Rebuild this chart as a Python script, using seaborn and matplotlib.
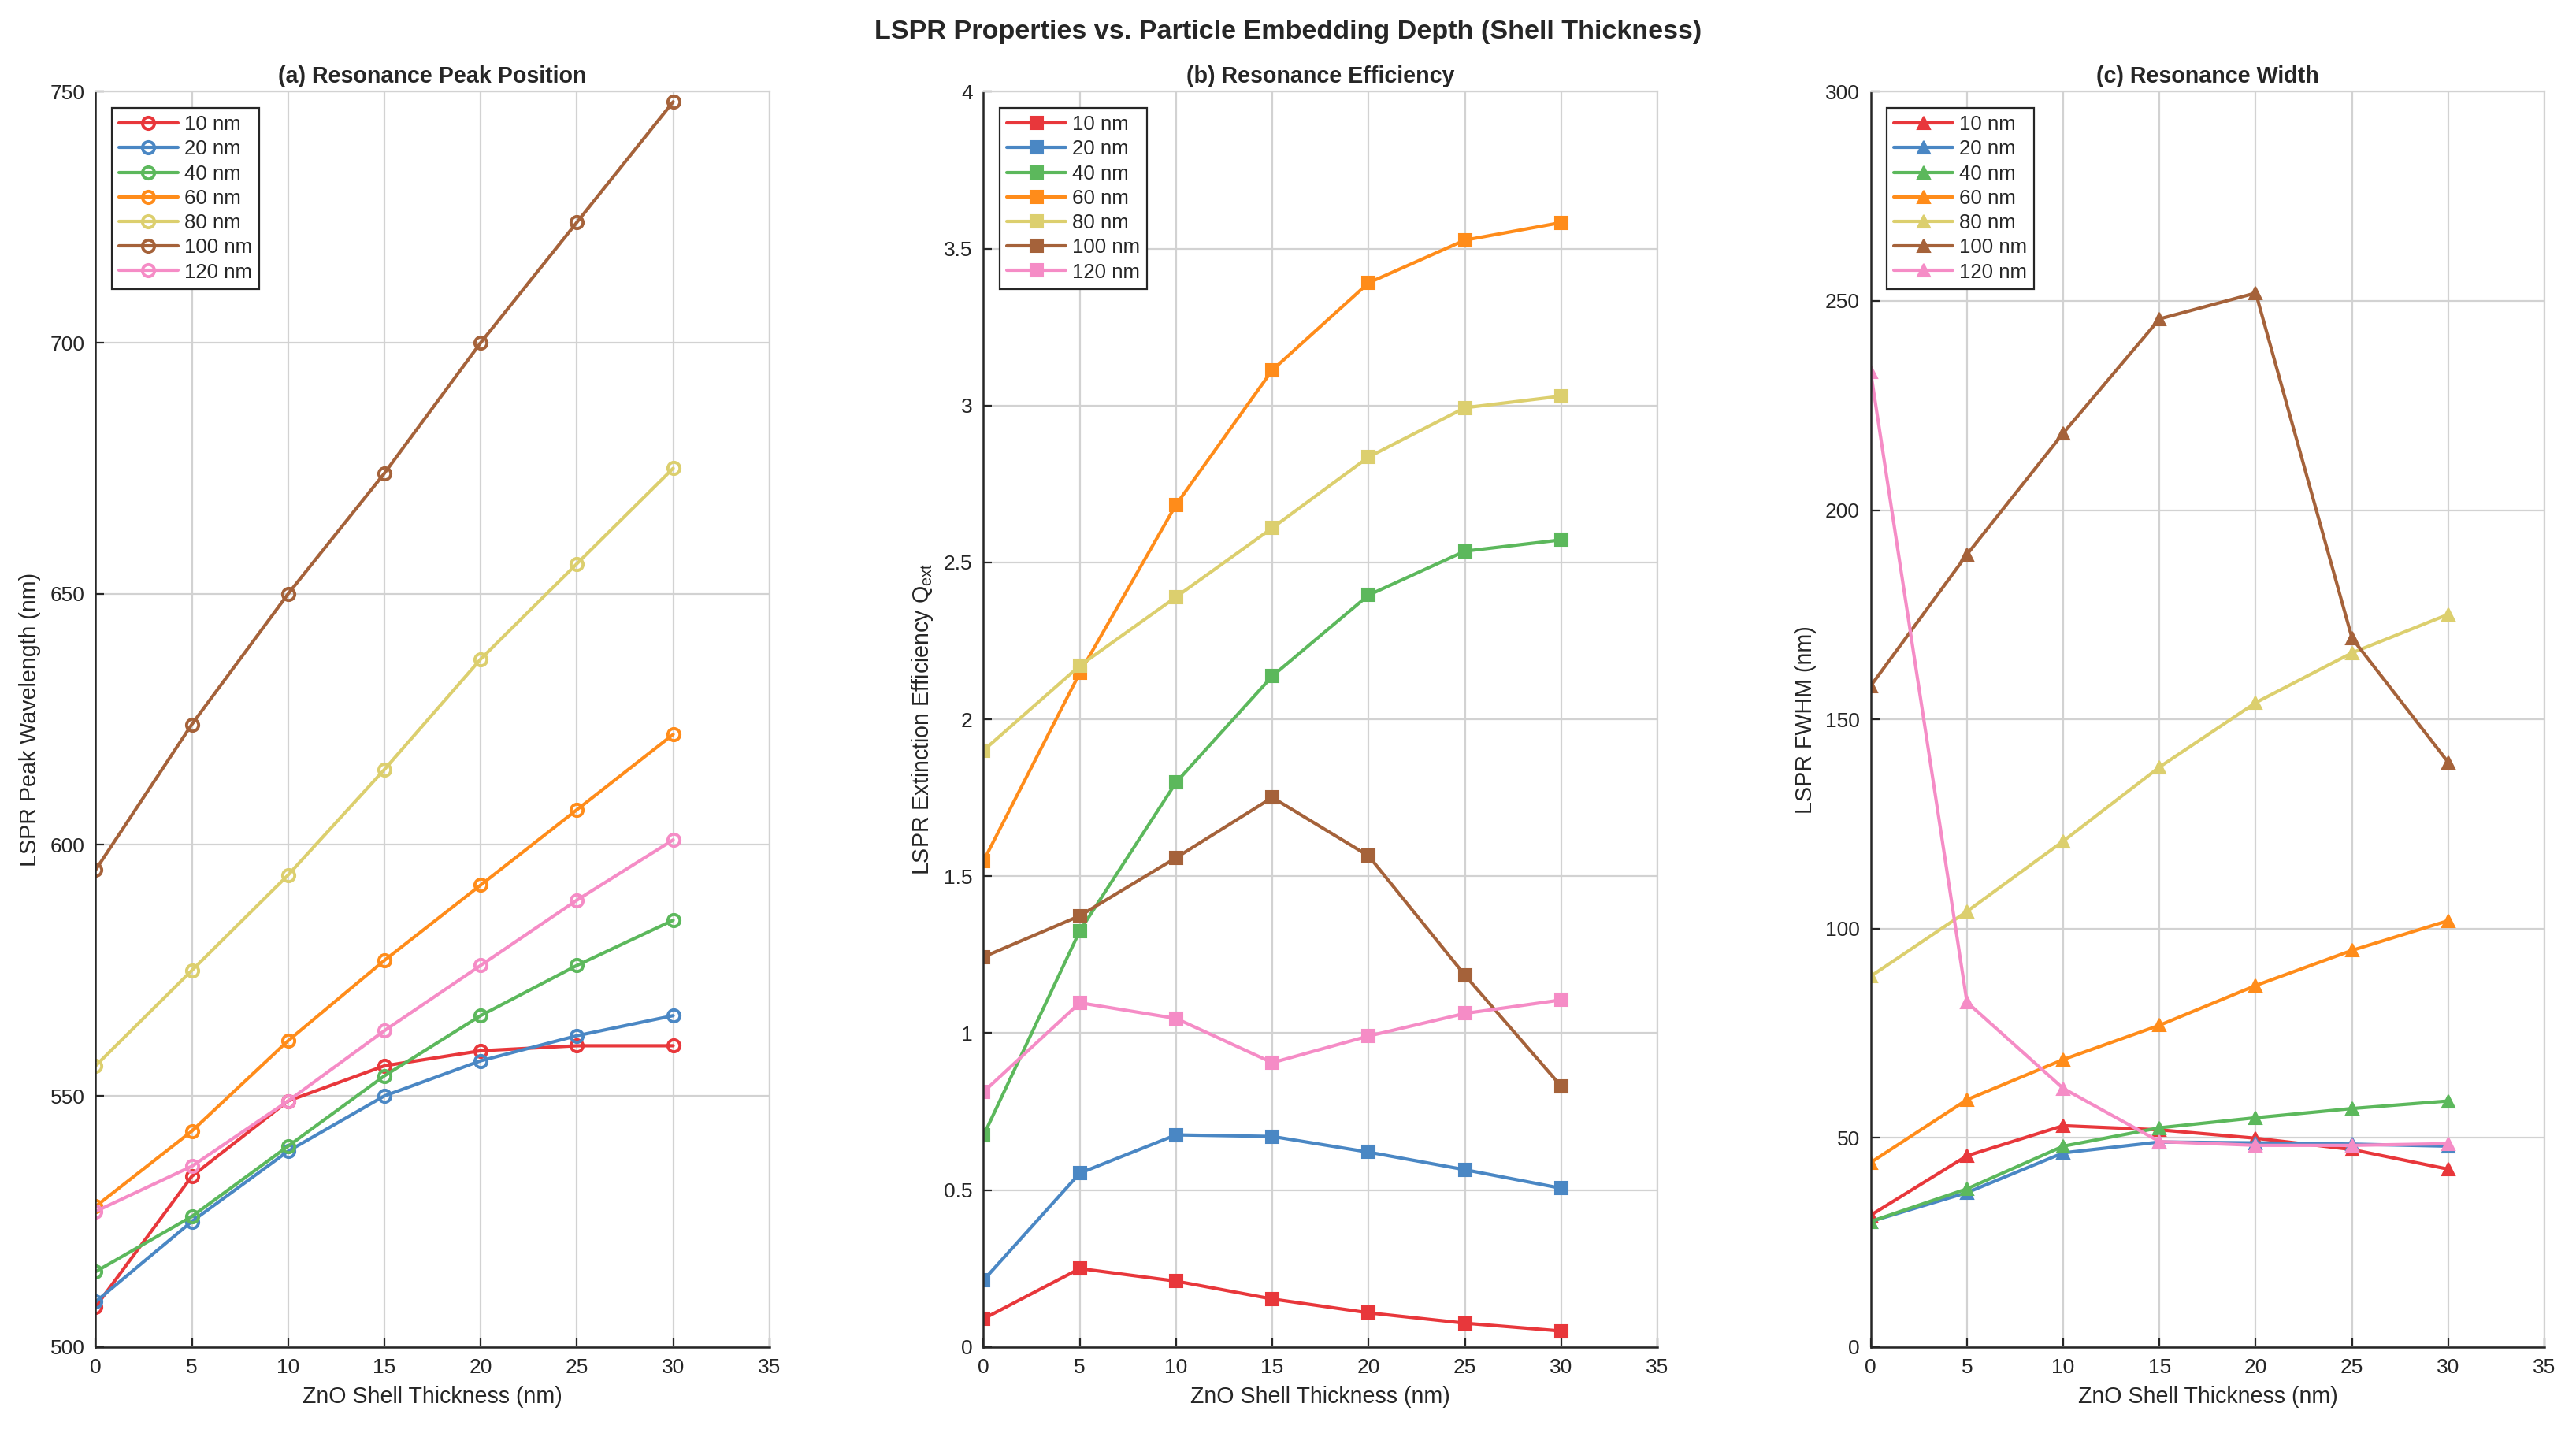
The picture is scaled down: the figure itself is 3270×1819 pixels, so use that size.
import numpy as np
import pandas as pd
import seaborn as sns
import matplotlib.pyplot as plt
from matplotlib.ticker import FormatStrFormatter

sns.set_theme(style="whitegrid")
plt.rcParams['font.family'] = ['Liberation Sans', 'DejaVu Sans']

# data
thickness = [0, 5, 10, 15, 20, 25, 30]
sizes = ["10 nm", "20 nm", "40 nm", "60 nm", "80 nm", "100 nm", "120 nm"]
colors = ["#e8373b", "#4a87c4", "#5cb85c", "#ff8c1a", "#dccf6e", "#a5623a", "#f58cc6"]

peak_10 = [508, 534, 549, 556, 559, 560, 560]
peak_20 = [509, 525, 539, 550, 557, 562, 566]
peak_40 = [515, 526, 540, 554, 566, 576, 585]
peak_60 = [528, 543, 561, 577, 592, 607, 622]
peak_80 = [556, 575, 594, 615, 637, 656, 675]
peak_100 = [595, 624, 650, 674, 700, 724, 748]
peak_120 = [527, 536, 549, 563, 576, 589, 601]

qext_10 = [0.09, 0.25, 0.21, 0.153, 0.109, 0.076, 0.051]
qext_20 = [0.213, 0.554, 0.676, 0.671, 0.621, 0.565, 0.506]
qext_40 = [0.674, 1.326, 1.799, 2.138, 2.396, 2.536, 2.572]
qext_60 = [1.549, 2.148, 2.684, 3.113, 3.391, 3.527, 3.583]
qext_80 = [1.901, 2.171, 2.39, 2.61, 2.836, 2.993, 3.03]
qext_100 = [1.243, 1.374, 1.559, 1.751, 1.565, 1.185, 0.831]
qext_120 = [0.813, 1.097, 1.047, 0.906, 0.991, 1.063, 1.106]

fwhm_10 = [31.5, 45.7, 52.9, 51.9, 49.9, 47.2, 42.5]
fwhm_20 = [30.0, 36.9, 46.4, 49.0, 48.8, 48.5, 48.0]
fwhm_40 = [30.0, 37.8, 48.0, 52.4, 54.8, 57.0, 58.8]
fwhm_60 = [44.1, 59.1, 68.7, 76.9, 86.4, 94.8, 101.9]
fwhm_80 = [88.6, 104.1, 120.9, 138.6, 154.0, 165.9, 175.1]
fwhm_100 = [158.0, 189.4, 218.4, 245.7, 251.9, 169.4, 139.7]
fwhm_120 = [233.0, 82.4, 61.8, 49.1, 48.2, 48.2, 48.6]

peak = [peak_10, peak_20, peak_40, peak_60, peak_80, peak_100, peak_120]
qext = [qext_10, qext_20, qext_40, qext_60, qext_80, qext_100, qext_120]
fwhm = [fwhm_10, fwhm_20, fwhm_40, fwhm_60, fwhm_80, fwhm_100, fwhm_120]

fig = plt.figure(figsize=(16.35, 9.095), dpi=200)
top, bottom = 0.936, 0.060
lefts = [0.0371, 0.3818, 0.7262]
width = 0.2616

panels = [
    (peak, "o", "(a) Resonance Peak Position", "LSPR Peak Wavelength (nm)", (500, 750), 50),
    (qext, "s", "(b) Resonance Efficiency", r"LSPR Extinction Efficiency Q$_\mathregular{ext}$", (0, 4), 0.5),
    (fwhm, "^", "(c) Resonance Width", "LSPR FWHM (nm)", (0, 300), 50),
]

for left, (series, mk, title, ylab, ylim, ystep) in zip(lefts, panels):
    ax = fig.add_axes([left, bottom, width, top - bottom])
    for vals, lab, col in zip(series, sizes, colors):
        df = pd.DataFrame({"t": thickness, "v": vals})
        if mk == "o":
            sns.lineplot(data=df, x="t", y="v", ax=ax, color=col, lw=1.5, marker=mk,
                         markersize=5.5, markerfacecolor="none", markeredgecolor=col,
                         markeredgewidth=1.4, label=lab)
        else:
            sns.lineplot(data=df, x="t", y="v", ax=ax, color=col, lw=1.5, marker=mk,
                         markersize=6, markeredgecolor=col, label=lab)
    ax.set_xlim(0, 35)
    ax.set_ylim(*ylim)
    ax.set_xticks(np.arange(0, 36, 5))
    ax.set_yticks(np.arange(ylim[0], ylim[1] + ystep / 2, ystep))
    ax.yaxis.set_major_formatter(FormatStrFormatter("%g"))
    ax.set_facecolor("white")
    ax.grid(True, color="#d2d2d2", lw=0.8)
    for s in ["left", "bottom"]:
        ax.spines[s].set_color("#262626")
        ax.spines[s].set_linewidth(0.9)
    for s in ["top", "right"]:
        ax.spines[s].set_color("#d2d2d2")
        ax.spines[s].set_linewidth(0.8)
    ax.tick_params(axis="both", direction="in", length=4, width=0.8, color="#262626",
                   labelsize=9.5, labelcolor="#262626", pad=5, bottom=True, left=True)
    ax.set_xlabel("ZnO Shell Thickness (nm)", fontsize=10.3, color="#262626", labelpad=4)
    ax.set_ylabel(ylab, fontsize=10.3, color="#262626", labelpad=4)
    ax.set_title(title, fontsize=10.3, fontweight="bold", pad=4)
    leg = ax.legend(loc="upper left", fontsize=9.3, frameon=True, fancybox=False,
                    edgecolor="#262626", framealpha=1, borderpad=0.35, labelspacing=0.28,
                    handlelength=2.9, handletextpad=0.3, borderaxespad=0.8)
    leg.get_frame().set_linewidth(0.8)

fig.suptitle("LSPR Properties vs. Particle Embedding Depth (Shell Thickness)",
             fontsize=12.3, fontweight="bold", y=0.978, va="center")
fig.savefig("out.png", dpi=200, facecolor="white")
